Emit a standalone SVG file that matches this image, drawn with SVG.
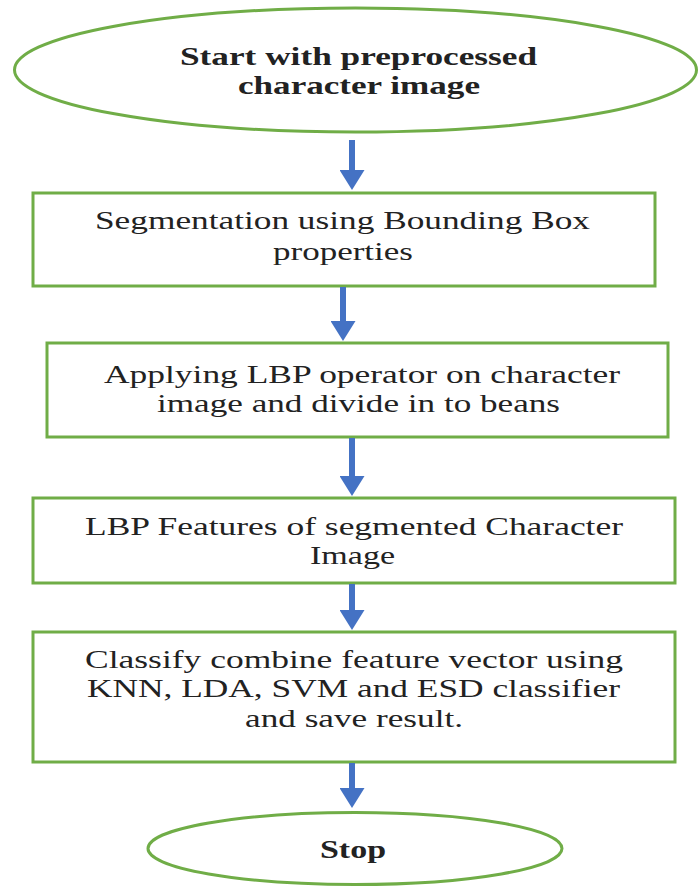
<svg xmlns="http://www.w3.org/2000/svg" width="698" height="886" viewBox="0 0 698 886">
<style>
.node{fill:#fff;stroke:#70AD47;stroke-width:3}
.t{font-family:"Liberation Serif","Times New Roman",serif;font-size:25px;fill:#222}
.b{font-weight:bold;font-size:26px}
.conn line{stroke:#4472C4;stroke-width:6}
</style>
<defs>
<marker id="ah" viewBox="0 0 20 25" refX="0" refY="12.5" markerWidth="20" markerHeight="25" markerUnits="userSpaceOnUse" orient="auto">
<path d="M0,0 L20,12.5 L0,25 Z" fill="#4472C4"/>
</marker>
</defs>
<rect width="698" height="886" fill="#fff"/>
<g id="start">
<ellipse class="node" cx="355.5" cy="70" rx="341" ry="62"/>
<text class="t b" x="180" y="65" textLength="357" lengthAdjust="spacingAndGlyphs">Start with preprocessed</text>
<text class="t b" x="238" y="94" textLength="242" lengthAdjust="spacingAndGlyphs">character image</text>
</g>
<g id="seg">
<rect class="node" x="33" y="193" width="622" height="93"/>
<text class="t" x="95" y="229" textLength="495" lengthAdjust="spacingAndGlyphs">Segmentation using Bounding Box</text>
<text class="t" x="273" y="260" textLength="140" lengthAdjust="spacingAndGlyphs">properties</text>
</g>
<g id="lbp">
<rect class="node" x="47" y="343" width="621" height="94"/>
<text class="t" x="104" y="383" textLength="516" lengthAdjust="spacingAndGlyphs">Applying LBP operator on character</text>
<text class="t" x="157" y="412" textLength="403" lengthAdjust="spacingAndGlyphs">image and divide in to beans</text>
</g>
<g id="feat">
<rect class="node" x="33" y="498" width="642" height="85"/>
<text class="t" x="85" y="535" textLength="538" lengthAdjust="spacingAndGlyphs">LBP Features of segmented Character</text>
<text class="t" x="310" y="564" textLength="85" lengthAdjust="spacingAndGlyphs">Image</text>
</g>
<g id="classify">
<rect class="node" x="33" y="632" width="642" height="130"/>
<text class="t" x="85" y="668" textLength="538" lengthAdjust="spacingAndGlyphs">Classify combine feature vector using</text>
<text class="t" x="87" y="697" textLength="533" lengthAdjust="spacingAndGlyphs">KNN, LDA, SVM and ESD classifier</text>
<text class="t" x="245" y="727" textLength="218" lengthAdjust="spacingAndGlyphs">and save result.</text>
</g>
<g id="stop">
<ellipse class="node" cx="355" cy="848.5" rx="207" ry="36"/>
<text class="t b" x="320" y="858" textLength="66" lengthAdjust="spacingAndGlyphs">Stop</text>
</g>
<g class="conn" id="connectors">
<line x1="352" y1="140" x2="352" y2="170" marker-end="url(#ah)"/>
<line x1="343" y1="287" x2="343" y2="321" marker-end="url(#ah)"/>
<line x1="352" y1="438" x2="352" y2="476" marker-end="url(#ah)"/>
<line x1="352" y1="584" x2="352" y2="610" marker-end="url(#ah)"/>
<line x1="352" y1="763" x2="352" y2="788" marker-end="url(#ah)"/>
</g>
</svg>
